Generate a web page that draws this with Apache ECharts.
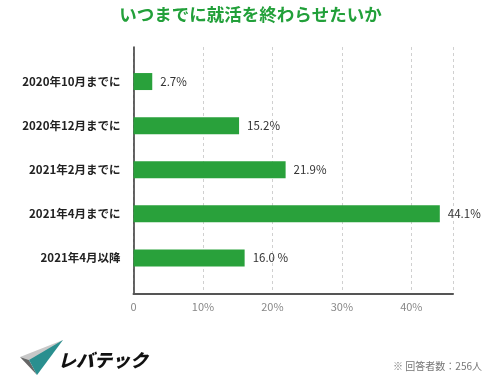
<!DOCTYPE html>
<html><head><meta charset="utf-8">
<script src="https://cdn.jsdelivr.net/npm/echarts@6/dist/echarts.min.js"></script>
<style>html,body{margin:0;padding:0;background:#fff}#c{width:501px;height:388px}</style>
</head><body><div id="c"></div>
<script>
const categories = ['2020年10月までに','2020年12月までに','2021年2月までに','2021年4月までに','2021年4月以降'];
const values = [2.7, 15.2, 21.9, 44.1, 16.0];
const valueLabels = ['2.7%','15.2%','21.9%','44.1%','16.0 %'];
const title = 'いつまでに就活を終わらせたいか';
const footnote = '※ 回答者数：256人';

const chart = echarts.init(document.getElementById('c'), null, {renderer:'canvas'});
const FONT = '"Noto Sans CJK JP","Noto Sans",sans-serif';
const GREEN = '#29a13b';
chart.setOption({
  animation:false,
  backgroundColor:'#fff',
  title:{text:title,left:'center',top:1,textStyle:{color:'#22a03a',fontSize:17.5,fontWeight:'bold',fontFamily:FONT}},
  grid:[
    {left:133.5,right:48,top:47,bottom:94},
    {left:133.5,right:48,top:59.5,bottom:108}
  ],
  xAxis:[
    {gridIndex:0,type:'value',min:0,max:46,interval:10,
     axisLine:{show:true,lineStyle:{color:'#555',width:2}},
     axisTick:{show:false},
     splitLine:{show:true,lineStyle:{color:'#d0d0d0',type:[3,3],width:1}},
     axisLabel:{color:'#888',fontSize:11,fontFamily:FONT,margin:7,
       formatter:v=> v===0?'0':(v%10===0? v+'%':'')}},
    {gridIndex:1,type:'value',min:0,max:46,show:false}
  ],
  yAxis:[
    {gridIndex:0,type:'category',data:[],axisLine:{show:true,lineStyle:{color:'#333',width:1.5}},axisTick:{show:false},axisLabel:{show:false}},
    {gridIndex:1,type:'category',data:categories,inverse:true,
     axisLine:{show:false},axisTick:{show:false},
     axisLabel:{color:'#222',fontSize:11.5,fontWeight:'bold',fontFamily:FONT,margin:13}}
  ],
  series:[{
    type:'bar',xAxisIndex:1,yAxisIndex:1,data:values,barWidth:17,
    itemStyle:{color:GREEN},
    label:{show:true,position:'right',distance:8,color:'#333',fontSize:11.5,fontFamily:FONT,
      formatter:p=>valueLabels[p.dataIndex]}
  }],
  graphic:[
    {type:'polygon',shape:{points:[[20,357],[63,340],[40,361],[29,360]]},style:{fill:'#c8c8c8'}},
    {type:'polygon',shape:{points:[[20,357],[29,360],[37,375]]},style:{fill:'#666'}},
    {type:'polygon',shape:{points:[[63,340],[29,360],[37,375]]},style:{fill:'#2a8f8f'}},
    {type:'text',left:58,top:351,style:{text:'レバテック',fill:'#111',font:'italic 900 18px '+FONT}},
    {type:'text',right:19,top:361,style:{text:footnote,fill:'#777',font:'10px '+FONT}}
  ]
});
</script></body></html>
